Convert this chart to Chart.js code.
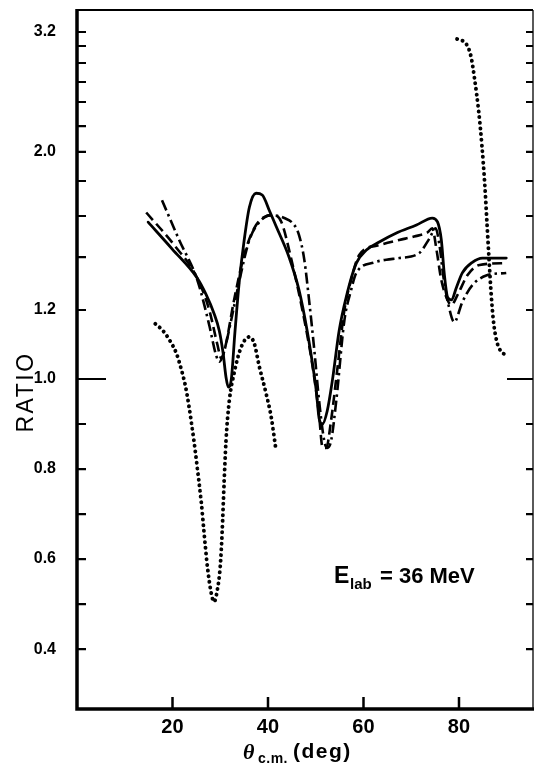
<!DOCTYPE html>
<html>
<head>
<meta charset="utf-8">
<script src="https://cdn.jsdelivr.net/npm/chart.js@4.4.0/dist/chart.umd.min.js"></script>
<style>
  html, body { margin: 0; background: #fff; }
  #wrap { width: 535px; height: 767px; }
</style>
</head>
<body>
<div id="wrap"><canvas id="myChart"></canvas></div>
<script>
// solid curve
const solidX = [14.9, 19.9, 25.2, 27.0, 28.7, 29.8, 30.6, 31.2, 31.7, 32.3, 33.1, 34.0, 35.0, 36.1, 37.5, 38.8, 40.3, 41.7, 44.4, 46.5, 48.2, 49.3, 50.1, 50.7, 51.4, 52.4, 53.5, 54.9, 56.4, 58.5, 60.6, 63.3, 66.9, 71.1, 74.4, 75.5, 76.3, 76.9, 77.6, 78.4, 79.5, 80.7, 82.8, 84.9, 89.9];
const solidY = [1.57, 1.44, 1.32, 1.26, 1.19, 1.14, 1.075, 1.006, 0.982, 0.998, 1.14, 1.31, 1.48, 1.65, 1.73, 1.72, 1.63, 1.55, 1.40, 1.275, 1.14, 1.046, 0.975, 0.913, 0.90, 0.929, 0.998, 1.14, 1.25, 1.377, 1.434, 1.473, 1.517, 1.556, 1.59, 1.571, 1.483, 1.34, 1.249, 1.238, 1.287, 1.34, 1.38, 1.396, 1.396];

// dashed curve
const dashX = [14.5, 20.3, 25.2, 27.7, 29.4, 30.2, 31.0, 32.9, 35.0, 37.1, 39.2, 41.3, 42.8, 44.9, 47.2, 49.3, 50.7, 51.4, 52.2, 53.2, 54.5, 56.0, 57.4, 59.1, 63.3, 67.5, 70.6, 73.4, 74.4, 75.3, 76.3, 77.6, 78.4, 79.7, 81.8, 84.3, 89.9];
const dashY = [1.62, 1.46, 1.32, 1.20, 1.10, 1.06, 1.09, 1.238, 1.41, 1.54, 1.595, 1.605, 1.571, 1.39, 1.20, 1.04, 0.92, 0.849, 0.847, 0.907, 1.026, 1.2, 1.313, 1.41, 1.458, 1.483, 1.50, 1.52, 1.54, 1.434, 1.313, 1.238, 1.219, 1.257, 1.332, 1.37, 1.377];

// dash-dot curve
const dotDashX = [17.8, 21.4, 25.2, 27.7, 29.1, 29.8, 30.6, 32.3, 34.0, 36.1, 38.6, 40.7, 43.4, 45.5, 46.5, 47.6, 48.6, 49.7, 50.7, 51.8, 52.4, 53.2, 54.3, 56.0, 57.4, 58.5, 62.3, 64.8, 67.5, 71.7, 73.8, 75.1, 75.9, 76.7, 77.8, 79.0, 80.7, 82.8, 85.7, 89.9];
const dotDashY = [1.69, 1.483, 1.313, 1.156, 1.07, 1.05, 1.07, 1.171, 1.31, 1.483, 1.58, 1.605, 1.59, 1.556, 1.507, 1.39, 1.238, 1.084, 0.952, 0.862, 0.847, 0.862, 0.952, 1.17, 1.275, 1.34, 1.38, 1.39, 1.396, 1.42, 1.49, 1.54, 1.46, 1.33, 1.219, 1.165, 1.23, 1.294, 1.33, 1.34];

// dotted curve, two pieces
const dotLeftX = [16.4, 18.0, 19.5, 20.8, 21.8, 22.7, 23.5, 24.5, 25.2, 26.0, 26.6, 27.3, 28.1, 28.7, 29.4, 30.0, 30.4, 30.8, 31.2, 31.9, 32.9, 34.4, 36.1, 37.1, 38.2, 39.6, 40.7, 41.7];
const dotLeftY = [1.16, 1.14, 1.11, 1.075, 1.03, 0.985, 0.936, 0.862, 0.802, 0.729, 0.66, 0.584, 0.525, 0.505, 0.532, 0.584, 0.66, 0.767, 0.862, 0.952, 1.017, 1.093, 1.122, 1.104, 1.035, 0.968, 0.914, 0.84];
const dotRightX = [79.6, 80.6, 81.6, 82.5, 83.3, 84.1, 84.8, 85.4, 85.9, 86.3, 86.7, 87.2, 87.9, 88.8, 90.1];
const dotRightY = [3.10, 3.08, 3.02, 2.88, 2.62, 2.33, 2.05, 1.78, 1.55, 1.39, 1.27, 1.17, 1.11, 1.08, 1.07];

// axis ticks
const xTicks = [20, 40, 60, 80];
const yTicks = [0.4, 0.5, 0.6, 0.7, 0.8, 0.9, 1.0, 1.2, 1.4, 1.6, 1.8, 2.0, 2.2, 2.4, 2.6, 2.8, 3.0, 3.2];
const yLabels = [0.4, 0.6, 0.8, 1.0, 1.2, 2.0, 3.2];

// the ratio axis of the original is linear below 1 and compressed above
const ratioValues = [0.2667, 0.4, 0.5, 0.6, 0.7, 0.8, 0.9, 1.0, 1.2, 1.4, 1.6, 1.8, 2.0, 2.2, 2.4, 2.6, 2.8, 3.0, 3.2, 3.5];
const ratioFrac = [0, 0.0857, 0.1501, 0.2145, 0.2789, 0.3433, 0.4077, 0.4721, 0.5708, 0.6466, 0.7053, 0.7554, 0.7969, 0.8340, 0.8684, 0.8970, 0.9242, 0.9485, 0.9685, 1.0];

const interp = (v, xs, ys) => {
  let i = 0;
  while (i < xs.length - 2 && v > xs[i + 1]) i++;
  const t = (v - xs[i]) / (xs[i + 1] - xs[i]);
  return ys[i] + t * (ys[i + 1] - ys[i]);
};

class RatioScale extends Chart.LinearScale {
  buildTicks() {
    return yTicks.map((v) => ({ value: v }));
  }
  getPixelForValue(value) {
    const f = interp(value, ratioValues, ratioFrac);
    return this.bottom - f * (this.bottom - this.top);
  }
  getValueForPixel(pixel) {
    const f = (this.bottom - pixel) / (this.bottom - this.top);
    return interp(f, ratioFrac, ratioValues);
  }
}
RatioScale.id = 'ratio';
RatioScale.defaults = { ticks: { callback: (v) => v } };
Chart.register(RatioScale);

const toPoints = (xs, ys) => xs.map((x, i) => ({ x: x, y: ys[i] }));

const lineStyle = (dash, width, cap) => ({
  borderColor: '#000',
  borderWidth: width,
  borderDash: dash,
  borderCapStyle: cap,
  pointRadius: 0,
  fill: false,
  cubicInterpolationMode: 'monotone',
});

// frame and inward ticks
const frameTicks = {
  id: 'frameTicks',
  afterDraw(chart) {
    const { ctx, chartArea: a, scales } = chart;
    ctx.save();
    ctx.strokeStyle = '#000';
    ctx.lineCap = 'butt';

    ctx.lineWidth = 3.5;
    ctx.beginPath();
    ctx.moveTo(a.left, a.top - 1);
    ctx.lineTo(a.left, a.bottom);
    ctx.lineTo(a.right + 1, a.bottom);
    ctx.stroke();

    ctx.lineWidth = 2;
    ctx.beginPath();
    ctx.moveTo(a.left, a.top);
    ctx.lineTo(a.right, a.top);
    ctx.stroke();

    ctx.lineWidth = 1.3;
    ctx.beginPath();
    ctx.moveTo(a.right, a.top);
    ctx.lineTo(a.right, a.bottom);
    ctx.stroke();

    ctx.lineWidth = 2.2;
    yTicks.forEach((v) => {
      const y = scales.y.getPixelForValue(v);
      const lenL = v === 1.0 ? 29 : 9;
      const lenR = v === 1.0 ? 26 : 7;
      ctx.beginPath();
      ctx.moveTo(a.left, y);
      ctx.lineTo(a.left + lenL, y);
      ctx.moveTo(a.right, y);
      ctx.lineTo(a.right - lenR, y);
      ctx.stroke();
    });

    ctx.lineWidth = 2.5;
    xTicks.forEach((v) => {
      const x = scales.x.getPixelForValue(v);
      ctx.beginPath();
      ctx.moveTo(x, a.bottom);
      ctx.lineTo(x, a.bottom - 12);
      ctx.stroke();
    });
    ctx.restore();
  },
};

// axis titles and energy label
const textLabels = {
  id: 'textLabels',
  afterDraw(chart) {
    const { ctx } = chart;
    ctx.save();
    ctx.fillStyle = '#000';
    ctx.textBaseline = 'alphabetic';

    // RATIO
    ctx.save();
    ctx.translate(33, 392);
    ctx.rotate(-Math.PI / 2);
    ctx.font = '23px "Liberation Sans"';
    ctx.letterSpacing = '2.5px';
    ctx.textAlign = 'center';
    ctx.fillText('RATIO', 0, 0);
    ctx.restore();

    // theta c.m. (deg)
    ctx.textAlign = 'left';
    ctx.font = 'italic bold 22px "Liberation Serif"';
    ctx.fillText('θ', 243, 759);
    ctx.font = 'bold 14px "Liberation Sans"';
    ctx.letterSpacing = '0.5px';
    ctx.fillText('c.m.', 258, 763);
    ctx.font = 'bold 21px "Liberation Sans"';
    ctx.letterSpacing = '1.5px';
    ctx.fillText('(deg)', 293, 758);

    // E lab = 36 MeV
    ctx.letterSpacing = '0px';
    ctx.font = 'bold 23px "Liberation Sans"';
    ctx.fillText('E', 334, 583);
    ctx.font = 'bold 15px "Liberation Sans"';
    ctx.fillText('lab', 350, 589);
    ctx.font = 'bold 22px "Liberation Sans"';
    ctx.fillText('= 36 MeV', 380, 583);
    ctx.restore();
  },
};

const dottedStyle = lineStyle([0.1, 5.6], 3.9, 'round');

new Chart(document.getElementById('myChart'), {
  type: 'line',
  data: {
    datasets: [
      { label: 'solid', data: toPoints(solidX, solidY), ...lineStyle([], 2.8, 'round') },
      { label: 'dashed', data: toPoints(dashX, dashY), ...lineStyle([10, 5], 2.6, 'butt') },
      { label: 'dash-dot', data: toPoints(dotDashX, dotDashY), ...lineStyle([11, 4, 2.5, 4], 2.6, 'butt') },
      { label: 'dotted', data: toPoints(dotLeftX, dotLeftY), ...dottedStyle },
      { label: 'dotted 2', data: toPoints(dotRightX, dotRightY), ...dottedStyle },
    ],
  },
  options: {
    responsive: true,
    maintainAspectRatio: false,
    animation: false,
    layout: { padding: { top: 10, right: 2, left: 0, bottom: 0 } },
    plugins: {
      legend: { display: false },
      tooltip: { enabled: false },
    },
    scales: {
      x: {
        type: 'linear',
        min: 0,
        max: 95.5,
        afterFit: (scale) => {
          scale.height = 58;
          scale.paddingLeft = 0;
          scale.paddingRight = 0;
        },
        afterBuildTicks: (scale) => { scale.ticks = xTicks.map((v) => ({ value: v })); },
        grid: { display: false, drawTicks: false, tickLength: 0 },
        border: { display: false },
        ticks: {
          color: '#000',
          padding: 6,
          maxRotation: 0,
          font: { family: '"Liberation Sans"', size: 20, weight: 'bold' },
        },
      },
      y: {
        type: 'ratio',
        min: 0.2667,
        max: 3.5,
        afterFit: (scale) => {
          scale.width = 77;
          scale.paddingTop = 0;
          scale.paddingBottom = 0;
        },
        grid: { display: false, drawTicks: false, tickLength: 0 },
        border: { display: false },
        ticks: {
          color: '#000',
          padding: 21,
          autoSkip: false,
          font: { family: '"Liberation Sans"', size: 16, weight: 'bold' },
          callback: (v) => (yLabels.includes(v) ? v.toFixed(1) : ''),
        },
      },
    },
  },
  plugins: [frameTicks, textLabels],
});
</script>
</body>
</html>
